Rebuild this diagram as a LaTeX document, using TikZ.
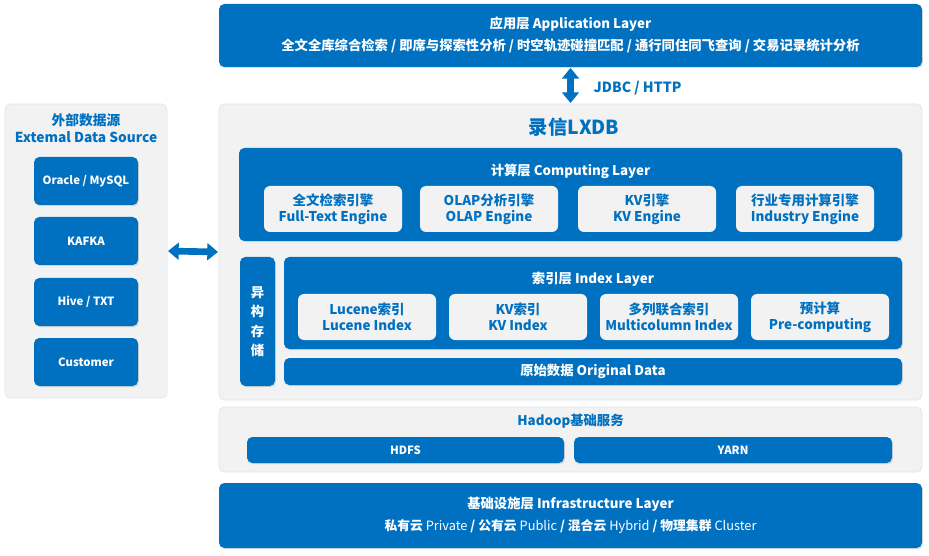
\documentclass[tikz,border=0pt]{standalone}
\usepackage{fontspec}
\setmainfont{Noto Sans CJK SC}
\usepackage{tikz}
\usetikzlibrary{arrows.meta,shadows}
\definecolor{lxblue}{RGB}{0,112,192}
\definecolor{lxgray}{RGB}{242,242,242}
\definecolor{lxedge}{RGB}{222,230,240}

\tikzset{
  sized/.style 2 args={minimum width=#1*0.75pt, minimum height=#2*0.75pt, inner sep=0pt},
  panel/.style={draw=lxedge, line width=0.5pt, fill=lxgray, rounded corners=4pt},
  layerbox/.style={fill=lxblue, rounded corners=4pt, drop shadow={shadow xshift=0.7pt, shadow yshift=-0.9pt, opacity=0.25}},
  enginebox/.style={fill=lxgray, rounded corners=4.5pt, text=lxblue, font=\bfseries\fontsize{10.1}{12}\selectfont, align=center},
  whitetext/.style={text=white, font=\bfseries\fontsize{10}{12}\selectfont},
  bluetext/.style={text=lxblue, font=\bfseries\fontsize{10}{12}\selectfont},
  smalltext/.style={text=white, font=\bfseries\fontsize{8.5}{10}\selectfont},
  fatarrow/.style={draw=lxblue, line width=5pt, {Triangle[length=8pt,width=12.5pt]}-{Triangle[length=8pt,width=12.5pt]}, shorten <=0.5pt, shorten >=0.5pt}
}

\begin{document}
\begin{tikzpicture}[x=0.75pt,y=0.75pt,yscale=-1,xscale=1]
\useasboundingbox[fill=white] (0,0) rectangle (929,556);

% Application layer
\node[layerbox, sized={703}{63}] (app) at (570.5,35.5) {};
\node[whitetext] (apptitle) at (570.5,24) {应用层 Application Layer};
\node[whitetext] (appsub) at (570.5,46) {全文全库综合检索 / 即席与探索性分析 / 时空轨迹碰撞匹配 / 通行同住同飞查询 / 交易记录统计分析};

% Main LXDB panel
\node[panel, sized={703}{296}] (main) at (570.5,252) {};
\node[text=lxblue, font=\bfseries\fontsize{14.5}{16}\selectfont] (lxdb) at (574,127) {录信LXDB};

% Computing layer
\node[layerbox, sized={663}{93}] (compute) at (570.5,194.5) {};
\node[whitetext] (computetitle) at (570.5,171) {计算层 Computing Layer};
\node[enginebox, sized={138}{46}] (fulltext) at (333,209) {全文检索引擎\\Full-Text Engine};
\node[enginebox, sized={138}{46}] (olap) at (489,209) {OLAP分析引擎\\OLAP Engine};
\node[enginebox, sized={138}{46}] (kvengine) at (647,209) {KV引擎\\KV Engine};
\node[enginebox, sized={138}{46}] (industry) at (805,209) {行业专用计算引擎\\Industry Engine};

% Heterogeneous storage
\node[layerbox, sized={35}{129}, text=white, align=center, font=\bfseries\fontsize{10}{14.6}\selectfont] (hetero) at (257.5,321.5) {异\\构\\存\\储};

% Index layer
\node[layerbox, sized={618}{92}] (index) at (593,303) {};
\node[whitetext] (indextitle) at (593,279) {索引层 Index Layer};
\node[enginebox, sized={138}{46}] (lucene) at (367,317) {Lucene索引\\Lucene Index};
\node[enginebox, sized={138}{46}] (kvindex) at (518,317) {KV索引\\KV Index};
\node[enginebox, sized={138}{46}] (multicol) at (669,317) {多列联合索引\\Multicolumn Index};
\node[enginebox, sized={138}{46}] (precomp) at (820,317) {预计算\\Pre-computing};

% Original data
\node[layerbox, sized={618}{27}, whitetext] (original) at (593,371.5) {原始数据 Original Data};

% Hadoop services
\node[panel, sized={703}{65}] (hadoop) at (570.5,439.5) {};
\node[bluetext] (hadooptitle) at (570.5,421) {Hadoop基础服务};
\node[layerbox, sized={317}{26}, smalltext] (hdfs) at (405.5,450) {HDFS};
\node[layerbox, sized={318}{26}, smalltext] (yarn) at (733,450) {YARN};

% Infrastructure layer
\node[layerbox, sized={703}{65}] (infra) at (570.5,515.5) {};
\node[whitetext] (infratitle) at (570.5,504) {基础设施层 Infrastructure Layer};
\node[whitetext, font=\bfseries\fontsize{9.6}{12}\selectfont] (infrasub) at (570.5,526) {私有云 {\mdseries Private} / 公有云 {\mdseries Public} / 混合云 {\mdseries Hybrid} / 物理集群 {\mdseries Cluster}};

% External data source
\node[panel, sized={162}{294}] (ext) at (86,251) {};
\node[bluetext, align=center, font=\bfseries\fontsize{10.3}{12.8}\selectfont] (exttitle) at (86,128.5) {外部数据源\\Extemal Data Source};
\node[layerbox, sized={104}{48}, smalltext] (oracle) at (86,181) {Oracle / MySQL};
\node[layerbox, sized={104}{48}, smalltext] (kafka) at (86,241) {KAFKA};
\node[layerbox, sized={104}{48}, smalltext] (hive) at (86,302) {Hive / TXT};
\node[layerbox, sized={104}{48}, smalltext] (customer) at (86,362) {Customer};

% Connectors
\draw[fatarrow] (app.south) -- (main.north);
\node[bluetext, font=\bfseries\fontsize{10.5}{12}\selectfont, anchor=west] (jdbc) at (589,88) {JDBC / HTTP};
\draw[fatarrow] (ext.east) -- (main.west);

\end{tikzpicture}
\end{document}
